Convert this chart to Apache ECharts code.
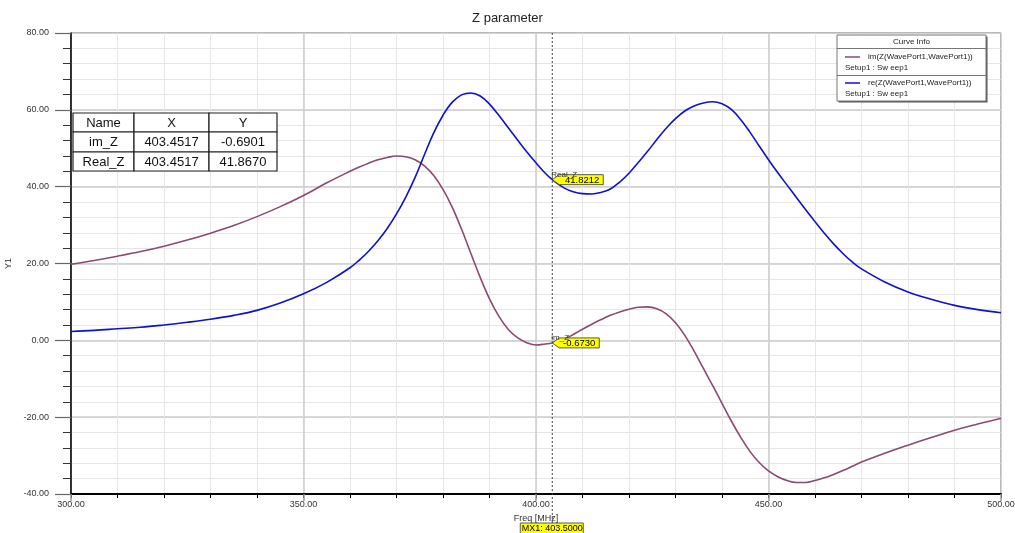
<!DOCTYPE html>
<html>
<head>
<meta charset="utf-8">
<script src="https://cdn.jsdelivr.net/npm/echarts@6/dist/echarts.min.js"></script>
<style>
  html, body { margin: 0; padding: 0; background: #fff; }
  #chart { width: 1015px; height: 533px; }
</style>
</head>
<body>
<div id="chart"></div>
<script>
// Sweep frequencies (MHz)
const freq = [300, 305, 310, 315, 320, 325, 330, 335, 340, 345, 350, 355, 360,
  362, 364, 366, 368, 370, 372, 374, 376, 378, 380, 382, 384, 386, 388, 390, 392, 394, 396, 398, 400, 402,
  403.45,
  406, 408, 410, 412, 414, 416, 418, 420, 422, 424, 426, 428, 430, 432, 434, 436, 438, 440, 442, 444, 446, 448,
  450, 452, 454, 456, 458, 460, 462, 464, 466, 468, 470,
  475, 480, 485, 490, 495, 500];

// im(Z) along the sweep
const imZ = [19.8, 20.8, 21.9, 23.1, 24.5, 26.1, 27.9, 29.9, 32.2, 34.8, 37.7, 41.0, 44.0,
  45.1, 46.1, 47.0, 47.6, 48.0, 47.8, 47.0, 45.4, 42.9, 39.3, 34.6, 28.9, 22.6, 16.4, 10.8, 6.3, 2.9, 0.7, -0.6, -1.2, -0.95,
  -0.69,
  0.3, 1.5, 2.9, 4.2, 5.4, 6.5, 7.4, 8.1, 8.6, 8.7, 8.2, 6.9, 4.6, 1.3, -2.8, -7.3, -11.8, -16.4, -21.0, -25.2, -28.9, -31.8,
  -34.0, -35.5, -36.5, -37.0, -37.0, -36.5, -35.8, -34.9, -33.9, -32.8, -31.7,
  -29.4, -27.3, -25.3, -23.4, -21.8, -20.3];

// re(Z) along the sweep
const reZ = [2.3, 2.6, 3.0, 3.4, 4.0, 4.7, 5.5, 6.5, 7.8, 9.7, 12.1, 15.1, 18.9,
  20.9, 23.2, 25.9, 29.1, 32.9, 37.3, 42.4, 48.3, 54.0, 58.6, 62.0, 63.9, 64.4, 63.6, 61.5, 58.6, 55.4, 52.2, 49.1, 46.2, 43.5,
  41.87,
  39.7, 38.7, 38.2, 38.1, 38.5, 39.4, 41.2, 43.5, 46.3, 49.2, 52.3, 55.2, 57.7, 59.7, 61.0, 61.8, 62.1, 61.6, 60.1, 57.5, 54.2, 50.6,
  47.0, 43.6, 40.4, 37.2, 34.0, 30.9, 27.9, 25.1, 22.6, 20.4, 18.6,
  15.2, 12.6, 10.7, 9.1, 8.0, 7.2];

// Curve legend text
const curveNames = ['im(Z(WavePort1,WavePort1))', 're(Z(WavePort1,WavePort1))'];
const curveSetup = 'Setup1 : Sw eep1';
const curveColors = ['#8a4a72', '#1010d2'];

// Marker table
const tableHeader = ['Name', 'X', 'Y'];
const markerNames = ['im_Z', 'Real_Z'];
const markerFreq = ['403.4517', '403.4517'];
const markerVal = ['-0.6901', '41.8670'];

// Cursor MX1 and its readouts
const mx1 = 403.5;
const mx1Labels = ['im_Z', 'Real_Z'];
const mx1Values = [-0.6730, 41.8212];

const FONT = '"Liberation Sans", Arial, sans-serif';

const chart = echarts.init(document.getElementById('chart'), null, { renderer: 'canvas' });

const option = {
  animation: false,
  backgroundColor: '#fff',
  textStyle: { fontFamily: FONT },
  title: {
    text: 'Z parameter',
    left: 'center',
    top: 7,
    textStyle: { fontSize: 13, fontWeight: 'normal', color: '#222', fontFamily: FONT }
  },
  grid: {
    left: 71, right: 14, top: 33, bottom: 39,
    outerBoundsMode: 'none', containLabel: false,
    show: true, borderColor: '#000', borderWidth: 1, backgroundColor: 'transparent'
  },
  xAxis: [
    {
      type: 'value', min: 300, max: 500, interval: 10, position: 'bottom',
      axisLine: { show: true, onZero: false, lineStyle: { color: '#000', width: 2 } },
      axisTick: { show: true, length: 4, lineStyle: { color: '#000', width: 1 } },
      axisLabel: { show: false },
      splitLine: { show: true, lineStyle: { color: '#e6e6e6', width: 1 } }
    },
    {
      type: 'value', min: 300, max: 500, interval: 50, position: 'bottom',
      axisLine: { show: false, onZero: false },
      axisTick: { show: true, length: 7, lineStyle: { color: '#999', width: 1.5 } },
      axisLabel: {
        show: true, margin: 6, fontSize: 9, color: '#333', fontFamily: FONT,
        showMinLabel: true, showMaxLabel: true,
        formatter: v => v.toFixed(2)
      },
      splitLine: { show: true, lineStyle: { color: '#cccccc', width: 1.5 } },
      name: 'Freq [MHz]', nameLocation: 'middle', nameGap: 17,
      nameTextStyle: { fontSize: 9, color: '#333', fontFamily: FONT }
    }
  ],
  yAxis: [
    {
      type: 'value', min: -40, max: 80, interval: 4, position: 'left',
      axisLine: { show: true, onZero: false, lineStyle: { color: '#000', width: 1.5 } },
      axisTick: { show: true, length: 8, lineStyle: { color: '#333', width: 1 } },
      axisLabel: { show: false },
      splitLine: { show: true, lineStyle: { color: '#e6e6e6', width: 1 } }
    },
    {
      type: 'value', min: -40, max: 80, interval: 20, position: 'left',
      axisLine: { show: false, onZero: false },
      axisTick: { show: true, length: 16, lineStyle: { color: '#666', width: 1.2 } },
      axisLabel: {
        show: true, margin: 22, fontSize: 9, color: '#333', fontFamily: FONT,
        showMinLabel: true, showMaxLabel: true,
        formatter: v => v.toFixed(2)
      },
      splitLine: { show: true, lineStyle: { color: '#cccccc', width: 1.5 } },
      name: 'Y1', nameLocation: 'middle', nameGap: 52, nameRotate: 90,
      nameTextStyle: { fontSize: 9, color: '#333', fontFamily: FONT }
    }
  ],
  series: [
    {
      name: curveNames[0], type: 'line', xAxisIndex: 0, yAxisIndex: 0,
      data: freq.map((f, i) => [f, imZ[i]]),
      showSymbol: false, smooth: 0.4,
      lineStyle: { color: curveColors[0], width: 1.6 }, z: 3
    },
    {
      name: curveNames[1], type: 'line', xAxisIndex: 0, yAxisIndex: 0,
      data: freq.map((f, i) => [f, reZ[i]]),
      showSymbol: false, smooth: 0.4,
      lineStyle: { color: curveColors[1], width: 1.6 }, z: 3
    }
  ]
};

chart.setOption(option);

const px = (x, y) => chart.convertToPixel({ xAxisIndex: 0, yAxisIndex: 0 }, [x, y]);
const g = [];

// Cursor line MX1, running below the axis down to its tag
const topPt = px(mx1, 80);
const botPt = px(mx1, -40);
const cx = topPt[0];
g.push({
  type: 'line', z: 50,
  shape: { x1: cx, y1: topPt[1], x2: cx, y2: botPt[1] + 30 },
  style: { stroke: '#444', lineWidth: 1, lineDash: [2, 2] }
});
g.push({
  type: 'rect', z: 51,
  shape: { x: cx - 32, y: botPt[1] + 29, width: 63, height: 12 },
  style: { fill: '#ffff00', stroke: '#333', lineWidth: 0.8 }
});
g.push({
  type: 'text', z: 52,
  style: {
    text: 'MX1: ' + mx1.toFixed(4), x: cx, y: botPt[1] + 35,
    align: 'center', verticalAlign: 'middle', font: '9px ' + FONT, fill: '#000'
  }
});

// Readout tags at the cursor crossing points
mx1Values.forEach((v, i) => {
  const p = px(mx1, v);
  const x = p[0], y = p[1];
  const w = i === 1 ? 51 : 47;
  g.push({
    type: 'polygon', z: 51,
    shape: { points: [[x, y], [x + 7, y - 5], [x + w, y - 5], [x + w, y + 5], [x + 7, y + 5]] },
    style: { fill: '#ffff00', stroke: '#333', lineWidth: 0.8 }
  });
  g.push({
    type: 'text', z: 52,
    style: {
      text: v.toFixed(4), x: x + w - 4, y: y + 0.5,
      align: 'right', verticalAlign: 'middle', font: '9.5px ' + FONT, fill: '#000'
    }
  });
  g.push({
    type: 'text', z: 53,
    style: {
      text: mx1Labels[i], x: x - 1, y: y - 5,
      align: 'left', verticalAlign: 'middle', font: '8px ' + FONT, fill: '#333'
    }
  });
});

// Marker table
const colW = [61, 75, 68];
const rowH = [19, 20, 19];
const tx0 = 73, ty0 = 113;
const rows = [tableHeader].concat(markerNames.map((n, i) => [n, markerFreq[i], markerVal[i]]));
let yy = ty0;
rows.forEach((row, r) => {
  let xx = tx0;
  row.forEach((cell, c) => {
    g.push({
      type: 'rect', z: 60,
      shape: { x: xx, y: yy, width: colW[c], height: rowH[r] },
      style: { fill: '#fff', stroke: '#222', lineWidth: 1.2 }
    });
    g.push({
      type: 'text', z: 61,
      style: {
        text: cell, x: xx + colW[c] / 2, y: yy + rowH[r] / 2 + 0.5,
        align: 'center', verticalAlign: 'middle', font: '13px ' + FONT, fill: '#111'
      }
    });
    xx += colW[c];
  });
  yy += rowH[r];
});

// Curve Info legend box
const lx = 837, ly = 35, lw = 149, lh = 66;
g.push({
  type: 'rect', z: 60,
  shape: { x: lx + 1.5, y: ly + 1.5, width: lw, height: lh },
  style: { fill: '#555' }
});
g.push({
  type: 'rect', z: 61,
  shape: { x: lx, y: ly, width: lw, height: lh },
  style: { fill: '#fff', stroke: '#777', lineWidth: 1 }
});
g.push({
  type: 'text', z: 62,
  style: { text: 'Curve Info', x: lx + lw / 2, y: ly + 7, align: 'center', verticalAlign: 'middle', font: '8px ' + FONT, fill: '#222' }
});
g.push({ type: 'line', z: 62, shape: { x1: lx, y1: ly + 13.5, x2: lx + lw, y2: ly + 13.5 }, style: { stroke: '#777', lineWidth: 1 } });
g.push({ type: 'line', z: 62, shape: { x1: lx, y1: ly + 40.5, x2: lx + lw, y2: ly + 40.5 }, style: { stroke: '#777', lineWidth: 1 } });
curveNames.forEach((name, i) => {
  const base = ly + 22 + i * 26;
  g.push({ type: 'line', z: 62, shape: { x1: lx + 8, y1: base, x2: lx + 23, y2: base }, style: { stroke: curveColors[i], lineWidth: 1.5 } });
  g.push({
    type: 'text', z: 62,
    style: { text: name, x: lx + 31, y: base, align: 'left', verticalAlign: 'middle', font: '8px ' + FONT, fill: '#222' }
  });
  g.push({
    type: 'text', z: 62,
    style: { text: curveSetup, x: lx + 8, y: base + 10.5, align: 'left', verticalAlign: 'middle', font: '8px ' + FONT, fill: '#222' }
  });
});

chart.setOption({ graphic: { elements: g } });
</script>
</body>
</html>
